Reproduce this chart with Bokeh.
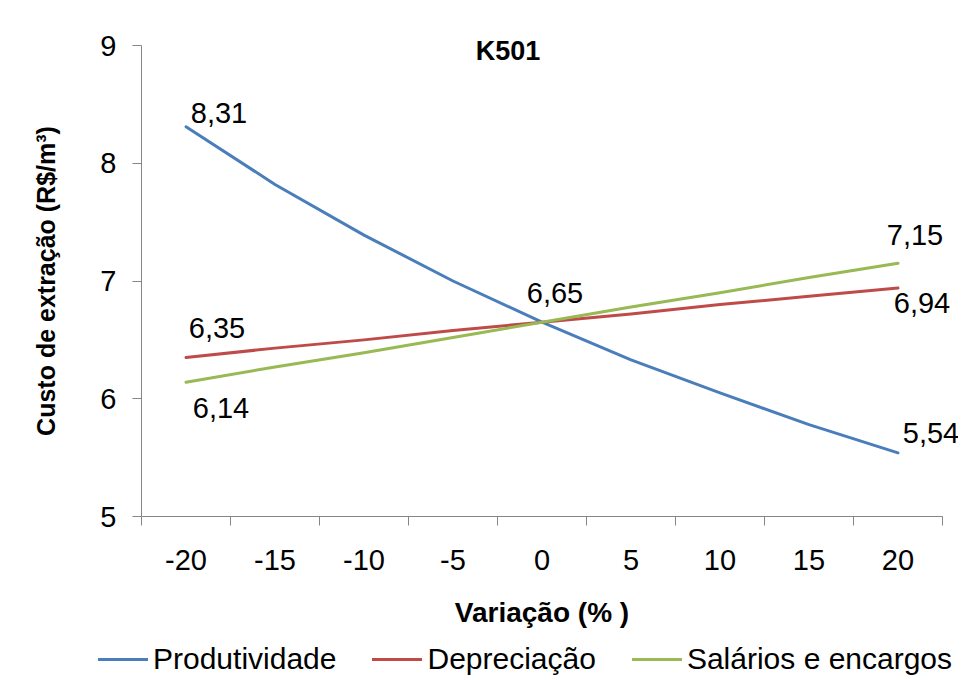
from bokeh.plotting import figure
from bokeh.models import (FixedTicker, Legend, LegendItem, Label, ColumnDataSource, Range1d)
from bokeh.core.properties import value
from bokeh.embed import file_html
from bokeh.resources import INLINE

# ---- data ----
variacao = [-20, -15, -10, -5, 0, 5, 10, 15, 20]
produtividade = [8.31, 7.82, 7.39, 7.00, 6.65, 6.33, 6.05, 5.78, 5.54]
depreciacao = [6.35, 6.43, 6.50, 6.58, 6.65, 6.72, 6.80, 6.87, 6.94]
salarios = [6.14, 6.27, 6.39, 6.52, 6.65, 6.78, 6.90, 7.03, 7.15]
series_names = ["Produtividade", "Depreciação", "Salários e encargos"]
y_ticks = [5, 6, 7, 8, 9]
title_text = "K501"
x_title = "Variação (% )"
y_title = "Custo de extração (R$/m³)"

# which points get data labels: (series index, point index)
labelled = [(0, 0), (0, 4), (0, 8), (1, 0), (1, 8), (2, 0), (2, 8)]
# label offsets in px (style)
label_dx = [33, 13, 33, 31, 24, 35, 17]
label_dy = [-14, -29, -20, -30, 15, 26, -28]

FONT = "Liberation Sans"
colors = ["#4A7EBB", "#BE4B48", "#98B954"]
AXIS_GRAY = "#868686"

# ---- layout (pixels) ----
W, H = 958, 676
PLOT_L, PLOT_R, PLOT_T, PLOT_B = 141, 942, 45, 516

half = (variacao[1] - variacao[0]) / 2.0
x_lo, x_hi = variacao[0] - half, variacao[-1] + half
y_lo, y_hi = y_ticks[0], y_ticks[-1]
boundaries = [v - half for v in variacao] + [variacao[-1] + half]

# frame covers whole canvas; extend ranges so the data area lands on the plot box
sx = (PLOT_R - PLOT_L) / (x_hi - x_lo)
sy = (PLOT_B - PLOT_T) / (y_hi - y_lo)
xr = Range1d(x_lo - PLOT_L / sx, x_hi + (W - PLOT_R) / sx)
yr = Range1d(y_lo - (H - PLOT_B) / sy, y_hi + PLOT_T / sy)

p = figure(width=W, height=H, output_backend="svg", toolbar_location=None,
           x_range=xr, y_range=yr,
           min_border_left=0, min_border_right=0, min_border_top=0, min_border_bottom=0)
p.outline_line_color = None
p.xgrid.visible = False
p.ygrid.visible = False
p.background_fill_color = "white"
p.border_fill_color = "white"

all_series = [produtividade, depreciacao, salarios]
renderers = []
for vals, c in zip(all_series, colors):
    r = p.line(variacao, vals, line_color=c, line_width=3, line_join="round", line_cap="round")
    renderers.append(r)

# data labels
lx, ly, lt = [], [], []
for (si, pi) in labelled:
    v = all_series[si][pi]
    lx.append(variacao[pi])
    ly.append(v)
    lt.append(f"{v:.2f}".replace(".", ","))
src = ColumnDataSource(dict(x=lx, y=ly, t=lt, dx=label_dx, dy=label_dy))
p.text(x="x", y="y", text="t", x_offset="dx", y_offset="dy", source=src,
       text_font=value(FONT), text_font_size="29px", text_color="black",
       text_align="center", text_baseline="middle")

# title inside plot
p.add_layout(Label(x=0, y=y_hi, text=title_text, x_offset=-34, y_offset=-5,
                   text_font=FONT, text_font_size="27px", text_font_style="bold",
                   text_align="center", text_baseline="middle", text_color="black"))

# x axis
xa = p.xaxis[0]
xa.fixed_location = y_lo
xa.bounds = (x_lo, x_hi)
xa.ticker = FixedTicker(ticks=variacao, minor_ticks=boundaries)
xa.major_label_overrides = {v: str(v) for v in variacao}
xa.major_tick_line_color = None
xa.major_tick_out = 0
xa.major_tick_in = 0
xa.minor_tick_line_color = AXIS_GRAY
xa.minor_tick_out = 9
xa.minor_tick_in = 0
xa.minor_tick_line_width = 1
xa.axis_line_color = AXIS_GRAY
xa.major_label_standoff = 24
xa.major_label_text_font = FONT
xa.major_label_text_font_size = "29px"
xa.major_label_text_color = "black"
xa.axis_label = x_title
xa.axis_label_text_font = FONT
xa.axis_label_text_font_size = "28px"
xa.axis_label_text_font_style = "bold"
xa.axis_label_text_color = "black"
xa.axis_label_standoff = 24

# y axis
ya = p.yaxis[0]
ya.fixed_location = x_lo
ya.bounds = (y_lo, y_hi)
ya.ticker = FixedTicker(ticks=y_ticks)
ya.major_label_overrides = {v: str(v) for v in y_ticks}
ya.minor_tick_line_color = None
ya.major_tick_line_color = AXIS_GRAY
ya.major_tick_out = 9
ya.major_tick_in = 0
ya.axis_line_color = AXIS_GRAY
ya.major_label_standoff = 16
ya.major_label_text_font = FONT
ya.major_label_text_font_size = "29px"
ya.major_label_text_color = "black"
ya.axis_label = y_title
ya.axis_label_text_font = FONT
ya.axis_label_text_font_size = "25px"
ya.axis_label_text_font_style = "bold"
ya.axis_label_text_color = "black"
ya.axis_label_standoff = 37

legend = Legend(items=[LegendItem(label=n, renderers=[r]) for n, r in zip(series_names, renderers)],
                orientation="horizontal", location=(98, 0),
                label_text_font=FONT, label_text_font_size="30px", label_text_color="black",
                glyph_width=50, glyph_height=20, label_standoff=5, spacing=36,
                padding=0, margin=0, border_line_color=None, background_fill_alpha=0)
p.add_layout(legend, "center")

open("out.html", "w").write(file_html(p, INLINE))
